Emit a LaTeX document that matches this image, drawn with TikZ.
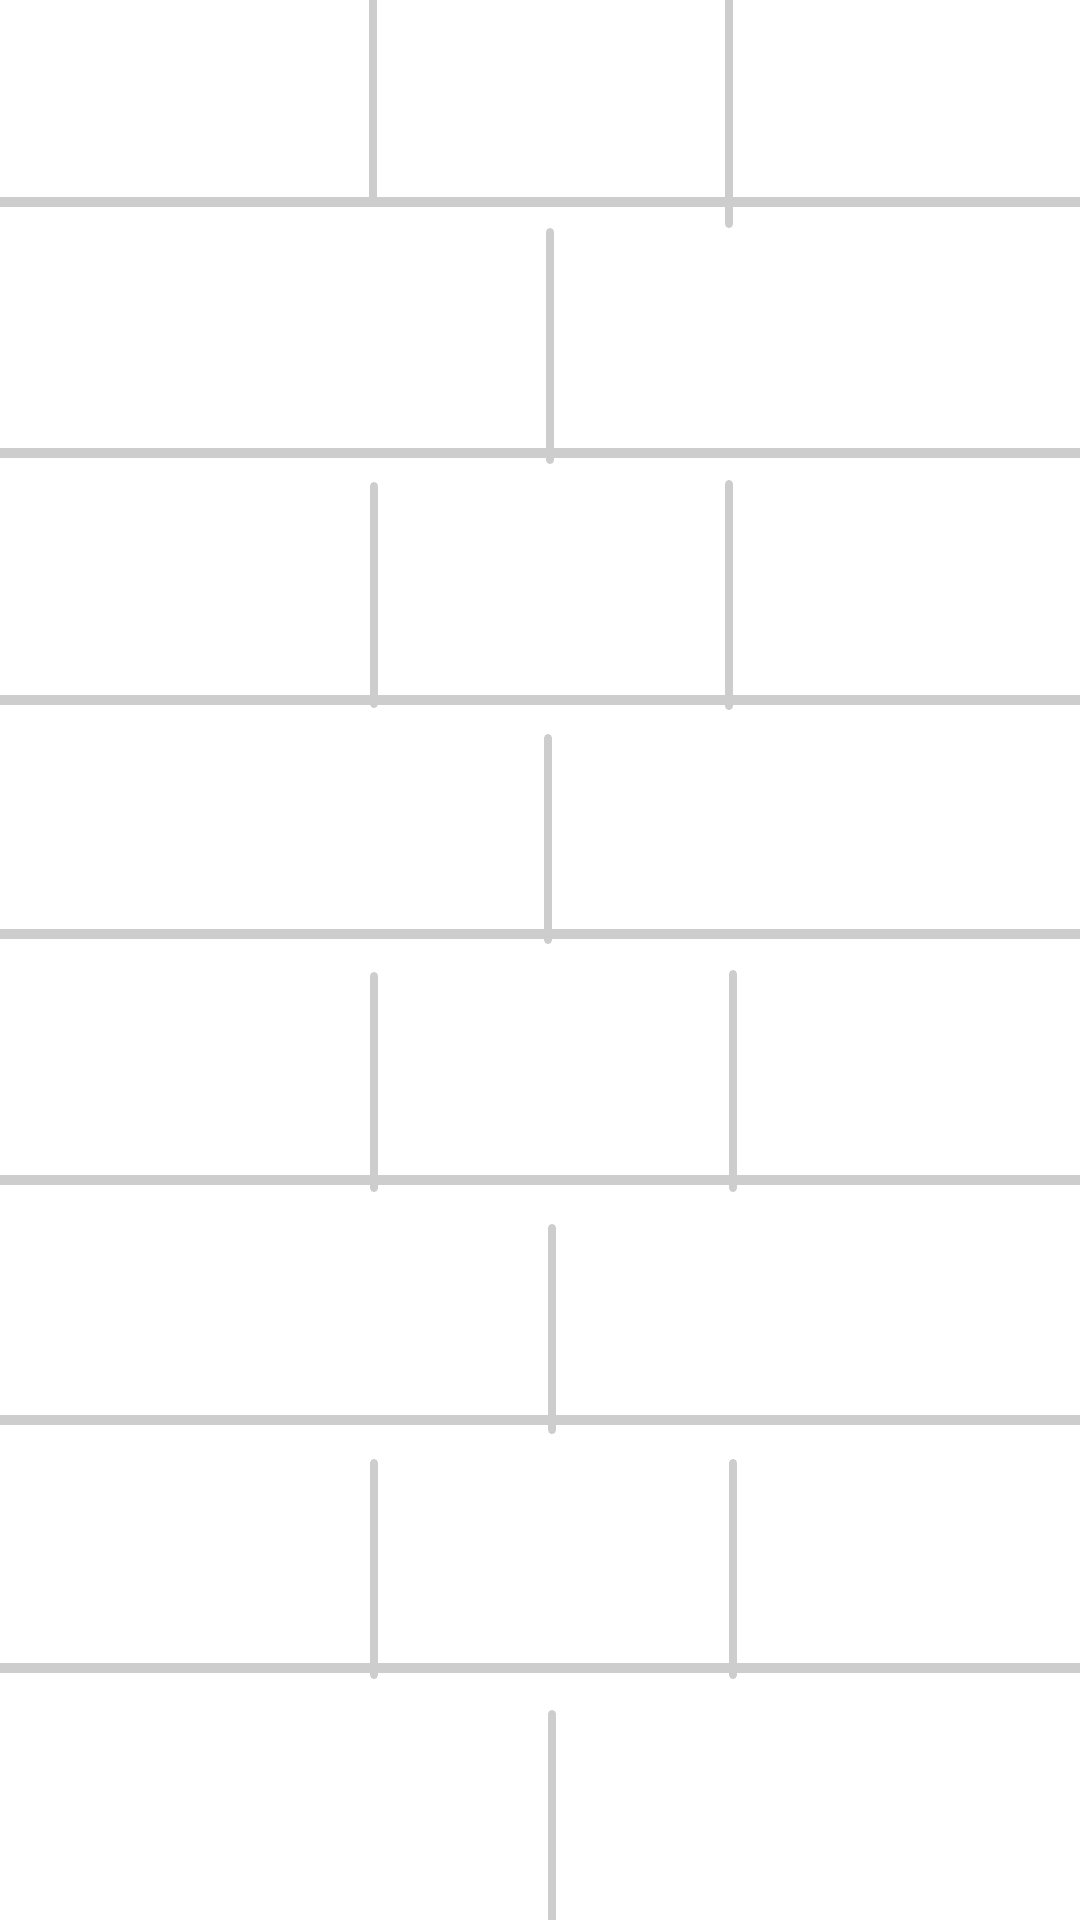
\documentclass[tikz,border=0pt]{standalone}
\usepackage{tikz}
\definecolor{mortargray}{HTML}{CDCDCD}
\tikzset{mortar/.style={draw=mortargray,line width=3pt},
  joint/.style={draw=mortargray,line width=2.3pt,line cap=round}}

\begin{document}
\begin{tikzpicture}[x=0.01cm,y=-0.01cm]
    \fill[white] (0,0) rectangle (1080,1920);
    \useasboundingbox (0,0) rectangle (1080,1920);
    % bed joints
    \foreach \y in {202,453,700,934,1180,1420,1668}
        \draw[mortar] (0,\y) -- (1080,\y);
    % head joints: x / top / bottom
    \foreach \x/\a/\b in {373/-10/202, 729/-10/224,
                          550/232/460,
                          374/486/704, 729/484/706,
                          548/738/940,
                          374/976/1188, 733/974/1188,
                          552/1228/1430,
                          374/1463/1675, 733/1463/1675,
                          552/1714/1930}
        \draw[joint] (\x,\a) -- (\x,\b);
\end{tikzpicture}
\end{document}
